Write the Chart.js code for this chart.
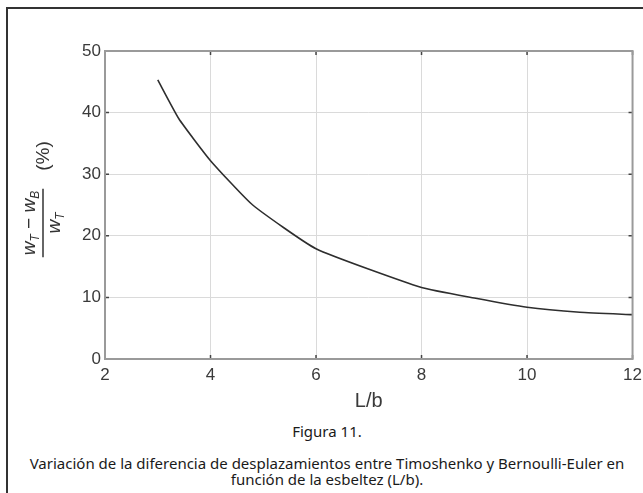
<!DOCTYPE html>
<html>
<head>
<meta charset="utf-8">
<script src="https://cdn.jsdelivr.net/npm/chart.js@4/dist/chart.umd.min.js"></script>
<style>
  html, body { margin: 0; padding: 0; background: #fff; width: 643px; height: 493px; overflow: hidden; }
  #frame { position: absolute; left: 6px; top: 7px; width: 700px; height: 600px;
           border-left: 2px solid #333; border-top: 2px solid #333; }
  #wrap { position: absolute; left: 0; top: 0; width: 648px; height: 415px; }
  .cap { position: absolute; left: 8px; width: 638px; text-align: center;
         font-family: "Noto Sans", sans-serif; font-size: 15px; color: #1a1a1a; line-height: 16px; }
</style>
</head>
<body>
<div id="frame"></div>
<div id="wrap"><canvas id="g-esbeltez"></canvas></div>
<div class="cap" style="top:423px">Figura 11.</div>
<div class="cap" style="top:455px">Variación de la diferencia de desplazamientos entre Timoshenko y Bernoulli-Euler en<br>función de la esbeltez (L/b).</div>
<script>
// esbeltez L/b y diferencia (%)
const esbeltez = [3, 3.4, 4, 4.8, 6, 8, 9, 10, 11, 12];
const diferencia = [45.3, 39.0, 32.2, 25.0, 17.9, 11.6, 9.9, 8.4, 7.6, 7.2];
const xTicks = [2, 4, 6, 8, 10, 12];
const yTicks = [0, 10, 20, 30, 40, 50];

const boxColor = '#9a9a9a';
const tickColor = '#444';

// caja del grafico + marcas hacia dentro
const framePlugin = {
    id: 'frame',
    afterDatasetsDraw(chart) {
        const { ctx, chartArea: a, scales } = chart;
        ctx.save();
        ctx.strokeStyle = tickColor;
        ctx.lineWidth = 1.5;
        const len = 4;
        xTicks.forEach(v => {
            const x = scales.x.getPixelForValue(v);
            ctx.beginPath();
            ctx.moveTo(x, a.bottom); ctx.lineTo(x, a.bottom - len);
            ctx.moveTo(x, a.top); ctx.lineTo(x, a.top + len);
            ctx.stroke();
        });
        yTicks.forEach(v => {
            const y = scales.y.getPixelForValue(v);
            ctx.beginPath();
            ctx.moveTo(a.left, y); ctx.lineTo(a.left + len, y);
            ctx.moveTo(a.right, y); ctx.lineTo(a.right - len, y);
            ctx.stroke();
        });
        ctx.strokeStyle = boxColor;
        ctx.lineWidth = 2;
        ctx.strokeRect(a.left, a.top, a.right - a.left, a.bottom - a.top);
        ctx.restore();
    },
    afterDraw(chart) {
        // titulo eje y: (wT - wB)/wT (%)
        const { ctx } = chart;
        const big = 'italic 19px "Liberation Sans", Arial, sans-serif';
        const sub = 'italic 12px "Liberation Sans", Arial, sans-serif';
        const reg = '19px "Liberation Sans", Arial, sans-serif';
        ctx.save();
        ctx.fillStyle = '#333';
        ctx.strokeStyle = '#333';
        ctx.translate(43, 223);
        ctx.rotate(-Math.PI / 2);
        ctx.textBaseline = 'alphabetic';
        ctx.textAlign = 'left';

        const parts = [
            ['w', big, 0], ['T', sub, 4], [' \u2212 ', reg, 0], ['w', big, 0], ['B', sub, 4]
        ];
        const widths = parts.map(p => { ctx.font = p[1]; return ctx.measureText(p[0]).width; });
        const numW = widths.reduce((s, w) => s + w, 0);
        let x = -numW / 2;
        parts.forEach((p, i) => {
            ctx.font = p[1];
            ctx.fillText(p[0], x, -8 + p[2]);
            x += widths[i];
        });

        const barW = numW + 4;
        ctx.lineWidth = 1.5;
        ctx.beginPath();
        ctx.moveTo(-barW / 2, 0); ctx.lineTo(barW / 2, 0);
        ctx.stroke();

        ctx.font = big;
        const w1 = ctx.measureText('w').width;
        ctx.font = sub;
        const w2 = ctx.measureText('T').width;
        let dx = -(w1 + w2) / 2;
        ctx.font = big;
        ctx.fillText('w', dx, 17);
        ctx.font = sub;
        ctx.fillText('T', dx + w1, 21);

        ctx.font = reg;
        ctx.fillText('(%)', barW / 2 + 18, 6);
        ctx.restore();
    }
};

const ctx = document.getElementById('g-esbeltez').getContext('2d');
const grafica = new Chart(ctx, {
    type: 'line',
    data: {
        datasets: [{
            data: esbeltez.map((v, i) => ({ x: v, y: diferencia[i] })),
            borderColor: '#2e2e2e',
            borderWidth: 1.6,
            pointRadius: 0,
            tension: 0.15,
            fill: false
        }]
    },
    options: {
        responsive: true,
        maintainAspectRatio: false,
        animation: false,
        layout: { padding: { left: 0, top: 51, right: 0, bottom: 0 } },
        plugins: { legend: { display: false }, tooltip: { enabled: false } },
        scales: {
            x: {
                type: 'linear',
                min: 2, max: 12,
                afterBuildTicks: s => { s.ticks = xTicks.map(v => ({ value: v })); },
                afterFit: s => { s.height = 56; },
                grid: { color: '#dadada', lineWidth: 1, drawTicks: false },
                border: { display: false },
                ticks: { padding: 6, color: '#3a3a3a', font: { family: '"Liberation Sans", Arial, sans-serif', size: 17 } },
                title: {
                    display: true, text: 'L/b', color: '#3a3a3a',
                    padding: { top: 0, bottom: 2 },
                    font: { family: '"Liberation Sans", Arial, sans-serif', size: 20 }
                }
            },
            y: {
                min: 0, max: 50,
                afterBuildTicks: s => { s.ticks = yTicks.map(v => ({ value: v })); },
                afterFit: s => { s.width = 105; },
                grid: { color: '#dadada', lineWidth: 1, drawTicks: false },
                border: { display: false },
                ticks: { padding: 4, color: '#3a3a3a', font: { family: '"Liberation Sans", Arial, sans-serif', size: 17 } }
            }
        }
    },
    plugins: [framePlugin]
});
</script>
</body>
</html>
